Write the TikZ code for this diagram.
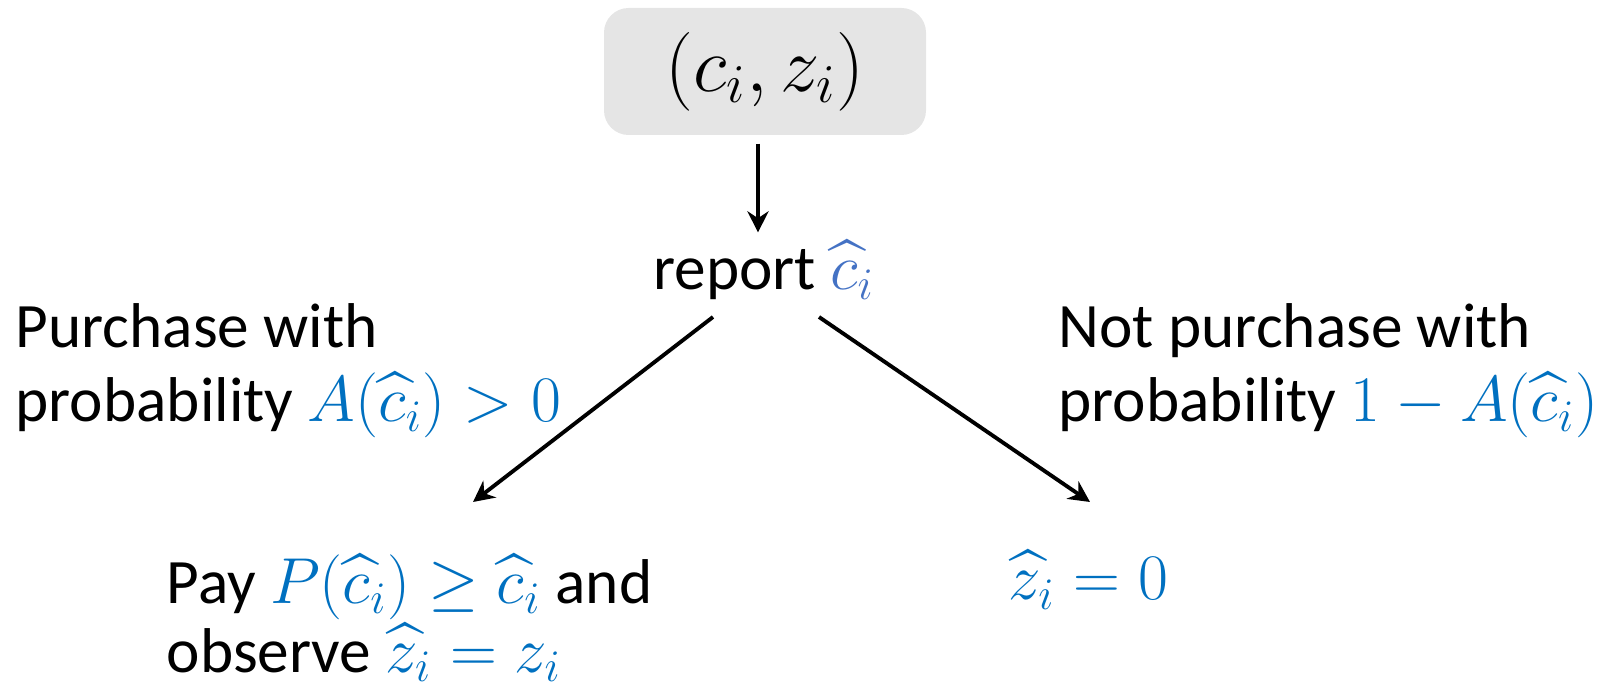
\documentclass[tikz,border=0pt]{standalone}
\usepackage{amsmath}
\usepackage{amssymb}
\usepackage{graphicx}
\usepackage{fontspec}
\setmainfont{Carlito}
\usepackage{xcolor}
\usetikzlibrary{positioning}
\usetikzlibrary{arrows, arrows.meta}
\definecolor{mblue}{HTML}{0070C0}
\definecolor{lblue}{HTML}{4472C4}
\newcommand{\bmath}[2][mblue]{\textcolor{#1}{\smash{\scalebox{1.07}{$#2$}}}}

\begin{document}
\begin{tikzpicture}[
  txt/.style={inner sep=0pt, align=left, font=\fontsize{18}{21}\selectfont},
  arr/.style={-{Stealth[length=6pt,width=6pt]}, line width=1.1pt}
]
  \useasboundingbox (0,0) rectangle (16.05,-6.82);

  % state box
  \node[fill=black!10, rounded corners=7pt, minimum width=3.22cm, minimum height=1.27cm,
        font=\fontsize{22}{26}\selectfont] (state) at (7.65,-0.715) {\scalebox{1.08}{$(c_i, z_i)$}};

  % report
  \node[txt, anchor=base] (report) at (7.64,-2.90) {report \bmath[lblue]{\widehat{c}_i}};
  \draw[arr] (state.south) ++(-0.07,-0.08) coordinate (s0) -- ([yshift=4.8pt]report.north -| s0) coordinate (s1);

  % branches
  \node[txt, anchor=north west] (buy) at (0.15,-3.03)
    {Purchase with\\probability \bmath{A(\widehat{c}_i) > 0}};
  \node[txt, anchor=north west] (nobuy) at (10.58,-3.03)
    {Not purchase with\\probability \bmath{1 - A(\widehat{c}_i)}};

  \node[txt, anchor=north west, font=\fontsize{18}{19.5}\selectfont] (pay) at (1.66,-5.59)
    {Pay \bmath{P(\widehat{c}_i) \geq \widehat{c}_i} and\\observe \bmath{\widehat{z}_i = z_i}};
  \node[txt, anchor=base west] (zero) at (10.08,-6.0) {\bmath{\widehat{z}_i = 0}};

  \coordinate (l0) at (7.13,-3.17);
  \coordinate (l1) at (4.73,-5.02);
  \coordinate (r0) at (8.19,-3.17);
  \coordinate (r1) at (10.90,-5.02);
  \draw[arr] (l0) -- (l1);
  \draw[arr] (r0) -- (r1);
\end{tikzpicture}
\end{document}
